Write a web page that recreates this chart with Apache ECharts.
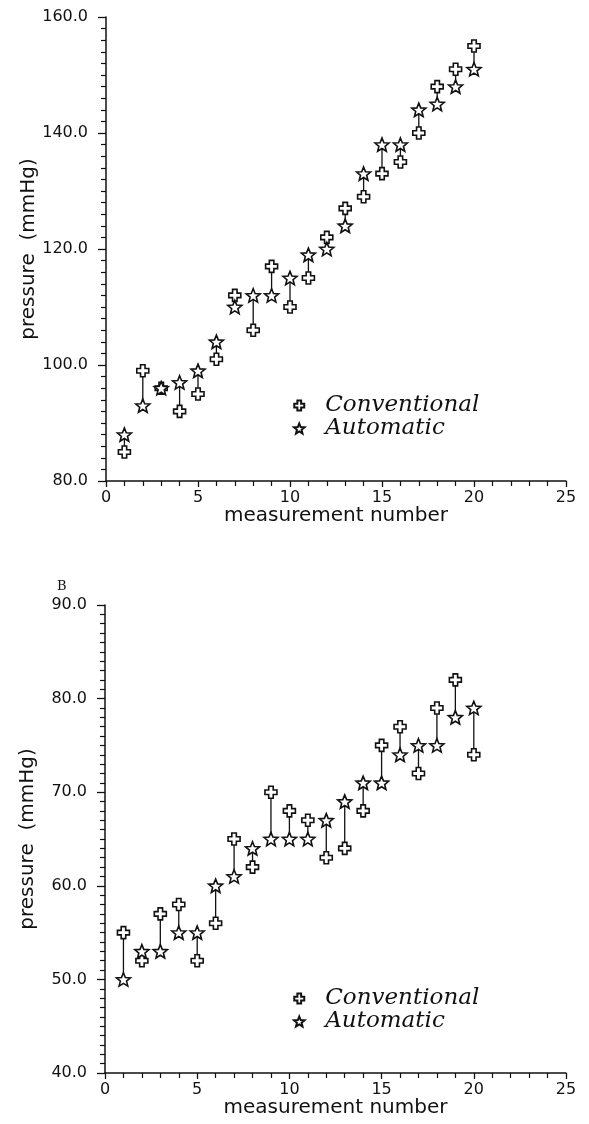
<!DOCTYPE html>
<html>
<head>
<meta charset="utf-8">
<script src="https://cdn.jsdelivr.net/npm/echarts@6/dist/echarts.min.js"></script>
<style>
html,body{margin:0;padding:0;background:#fff;}
#chart{width:589px;height:1124px;}
</style>
</head>
<body>
<div id="chart"></div>
<script>
// ---- data ----
const measurements = [1,2,3,4,5,6,7,8,9,10,11,12,13,14,15,16,17,18,19,20];
// Panel A (systolic)
const sysConventional = [85,99,96,92,95,101,112,106,117,110,115,122,127,129,133,135,140,148,151,155];
const sysAutomatic    = [88,93,96,97,99,104,110,112,112,115,119,120,124,133,138,138,144,145,148,151];
// Panel B (diastolic)
const diaConventional = [55,52,57,58,52,56,65,62,70,68,67,63,64,68,75,77,72,79,82,74];
const diaAutomatic    = [50,53,53,55,55,60,61,64,65,65,65,67,69,71,71,74,75,75,78,79];
const xTicks = [0,5,10,15,20,25];
const yTicksA = [80,100,120,140,160];
const yTicksB = [40,50,60,70,80,90];
const seriesNames = ['Conventional','Automatic'];
const yTitle = 'pressure  (mmHg)';
const xTitle = 'measurement number';
const panelLabel = 'B';

// ---- symbols ----
const crossPath = 'path://M3.75,0 H8.25 V3.75 H12 V8.25 H8.25 V12 H3.75 V8.25 H0 V3.75 H3.75 Z';
const starPath = 'path://M50,0 L62.93,32.2 L97.55,34.55 L70.92,56.8 L79.39,90.45 L50,72 L20.61,90.45 L29.08,56.8 L2.45,34.55 L37.07,32.2 Z';

const tickFont = {fontFamily:'DejaVu Sans', fontSize:16, color:'#111'};
const nameFont = {fontFamily:'DejaVu Sans', fontSize:20, color:'#111'};

function xAxis(gi){
  return {
    type:'value', gridIndex:gi, min:xTicks[0], max:xTicks[xTicks.length-1], interval:5,
    axisLine:{show:true, onZero:false, lineStyle:{color:'#111', width:1.5}},
    axisTick:{show:true, length:6, lineStyle:{color:'#111', width:1.3}},
    minorTick:{show:true, splitNumber:5, length:5, lineStyle:{color:'#111', width:1.2}},
    splitLine:{show:false},
    axisLabel:{...tickFont, margin:9},
    name:xTitle, nameLocation:'middle', nameGap:25, nameTextStyle:nameFont,
    nameMoveOverlap:false
  };
}
function yAxis(gi, ticks, minorSplit){
  const iv = ticks[1]-ticks[0];
  return {
    type:'value', gridIndex:gi, min:ticks[0], max:ticks[ticks.length-1], interval:iv,
    axisLine:{show:true, onZero:false, lineStyle:{color:'#111', width:1.5}},
    axisTick:{show:true, length:8, lineStyle:{color:'#111', width:1.3}},
    minorTick:{show:true, splitNumber:minorSplit, length:5, lineStyle:{color:'#111', width:1.2}},
    splitLine:{show:false},
    axisLabel:{...tickFont, margin:18, formatter:v=>v.toFixed(1)},
    name:yTitle, nameLocation:'middle', nameRotate:90, nameGap:67, nameTextStyle:nameFont,
    nameMoveOverlap:false
  };
}

function segData(conv, auto){
  return measurements.map((m,i)=>[m, conv[i], auto[i]]);
}
function segSeries(xi, conv, auto){
  return {
    type:'custom', xAxisIndex:xi, yAxisIndex:xi, silent:true, z:1,
    data:segData(conv, auto),
    renderItem:(params, api)=>{
      const p1 = api.coord([api.value(0), api.value(1)]);
      const p2 = api.coord([api.value(0), api.value(2)]);
      return {type:'line', shape:{x1:p1[0], y1:p1[1], x2:p2[0], y2:p2[1]},
              style:{stroke:'#111', lineWidth:1.3}};
    }
  };
}
function scatter(xi, name, vals, sym, size){
  return {
    type:'scatter', name:name, xAxisIndex:xi, yAxisIndex:xi, z:3,
    symbol:sym, symbolSize:size, symbolKeepAspect:true,
    itemStyle:{color:'#fff', borderColor:'#111', borderWidth:1.6, opacity:1},
    emphasis:{disabled:true},
    data:measurements.map((m,i)=>[m, vals[i]])
  };
}
function legend(top){
  return {
    orient:'vertical', left:288, top:top, itemWidth:42, itemHeight:10, itemGap:0,
    selectedMode:false,
    data:[{name:seriesNames[0], icon:crossPath},{name:seriesNames[1], icon:starPath}],
    textStyle:{fontFamily:'DejaVu Serif', fontStyle:'italic', fontSize:23, color:'#111'}
  };
}

const chart = echarts.init(document.getElementById('chart'), null, {renderer:'canvas'});
chart.setOption({
  animation:false,
  backgroundColor:'#fff',
  title:{text:panelLabel, left:52, top:575, textStyle:{fontFamily:'DejaVu Serif', fontSize:13, fontWeight:'normal', color:'#111'}},
  grid:[
    {left:106, right:23, top:17, height:464},
    {left:105, right:23, top:605, height:468}
  ],
  xAxis:[xAxis(0), xAxis(1)],
  yAxis:[yAxis(0, yTicksA, 10), yAxis(1, yTicksB, 10)],
  legend:[legend(389), legend(982)],
  series:[
    segSeries(0, sysConventional, sysAutomatic),
    scatter(0, seriesNames[0], sysConventional, crossPath, 12),
    scatter(0, seriesNames[1], sysAutomatic, starPath, 14),
    segSeries(1, diaConventional, diaAutomatic),
    scatter(1, seriesNames[0], diaConventional, crossPath, 12),
    scatter(1, seriesNames[1], diaAutomatic, starPath, 14)
  ]
});
</script>
</body>
</html>
